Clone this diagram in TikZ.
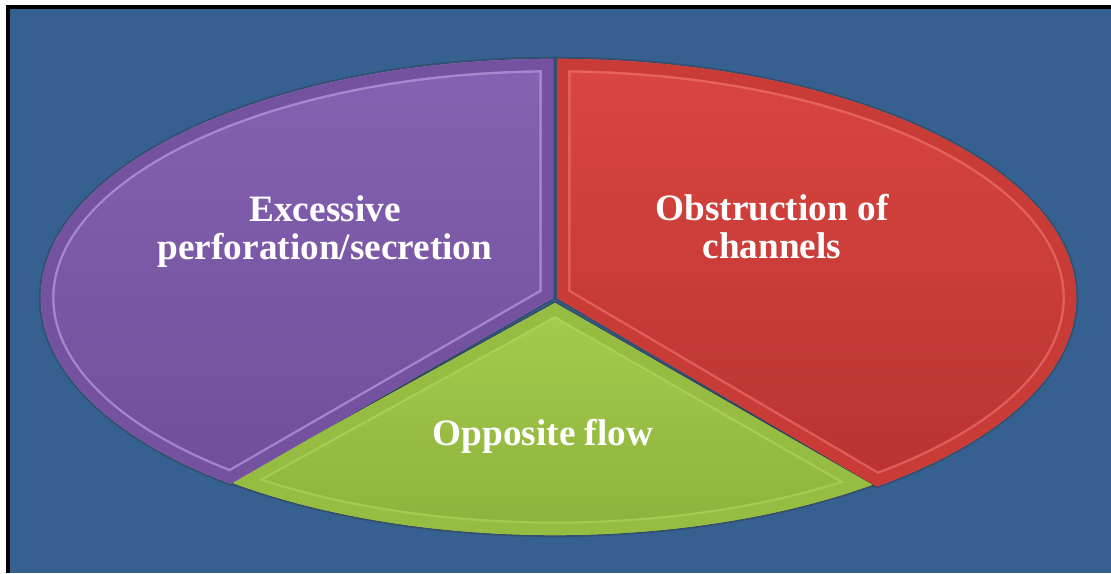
\documentclass[tikz,border=0pt]{standalone}
\usepackage{fontspec}
\setmainfont{Liberation Serif}
\usetikzlibrary{calc}
\definecolor{bgblue}{HTML}{36608F}
\definecolor{purptop}{HTML}{8562B3}
\definecolor{purpbot}{HTML}{6F4F99}
\definecolor{purprim}{HTML}{7452A0}
\definecolor{purplite}{HTML}{B79BE2}
\definecolor{redtop}{HTML}{DA4641}
\definecolor{redbot}{HTML}{B9332F}
\definecolor{redrim}{HTML}{C93B37}
\definecolor{redlite}{HTML}{EC706B}
\definecolor{greentop}{HTML}{A6CC4E}
\definecolor{greenbot}{HTML}{8CAF3A}
\definecolor{greenrim}{HTML}{96BC42}
\definecolor{greenlite}{HTML}{AED35A}
\tikzset{
  every node/.style={font=\fontsize{26.5}{27}\selectfont\bfseries},
  lbl/.style={text=white, align=center, inner sep=0pt},
  edge/.style={draw=black!80, opacity=0.35, line width=0.1cm},
  lite/.style={line width=0.68cm, opacity=0.7},
  rim/.style={line width=0.56cm},
}
% slice outlines
\newcommand\purpleslice{(pc) -- ++(90:12.8cm and 5.975cm)
  arc[start angle=90, end angle=231, x radius=12.8cm, y radius=5.975cm] -- cycle}
\newcommand\redslice{(rc) -- ++(-52:12.975cm and 5.975cm)
  arc[start angle=-52, end angle=90, x radius=12.975cm, y radius=5.975cm] -- cycle}
\newcommand\greenslice{(gv) -- ($(gc)+(231:12.875cm and 5.925cm)$)
  arc[start angle=231, end angle=308, x radius=12.875cm, y radius=5.925cm] -- cycle}

\begin{document}
\begin{tikzpicture}[x=0.025cm, y=0.025cm]
  \useasboundingbox (0,0) rectangle (1111,573);
  % backdrop and frame
  \fill[bgblue] (8,0) rectangle (1111,565.5);
  \draw[black, line width=0.1cm] (8,0) -- (8,565.5) -- (1111,565.5);

  \coordinate (pc) at (553,275);
  \coordinate (rc) at (557,275);
  \coordinate (gc) at (555,275);
  \coordinate (gv) at (555,270);

  % soft edges under the slices
  \path[edge] \greenslice;
  \path[edge] \purpleslice;
  \path[edge] \redslice;

  % green slice
  \begin{scope}
    \clip \greenslice;
    \shade[top color=greentop, bottom color=greenbot] \greenslice;
    \draw[lite, draw=greenlite] \greenslice;
    \draw[rim, draw=greenrim] \greenslice;
  \end{scope}
  % purple slice
  \begin{scope}
    \clip \purpleslice;
    \shade[top color=purptop, bottom color=purpbot] \purpleslice;
    \draw[lite, draw=purplite] \purpleslice;
    \draw[rim, draw=purprim] \purpleslice;
  \end{scope}
  % red slice
  \begin{scope}
    \clip \redslice;
    \shade[top color=redtop, bottom color=redbot] \redslice;
    \draw[lite, draw=redlite] \redslice;
    \draw[rim, draw=redrim] \redslice;
  \end{scope}

  % labels
  \node[lbl] (excess) at (325,341) {Excessive\\perforation/secretion};
  \node[lbl] (obstr) at (772,346) {Obstruction of\\channels};
  \node[lbl] (oppos) at (543,137) {Opposite flow};
\end{tikzpicture}
\end{document}
